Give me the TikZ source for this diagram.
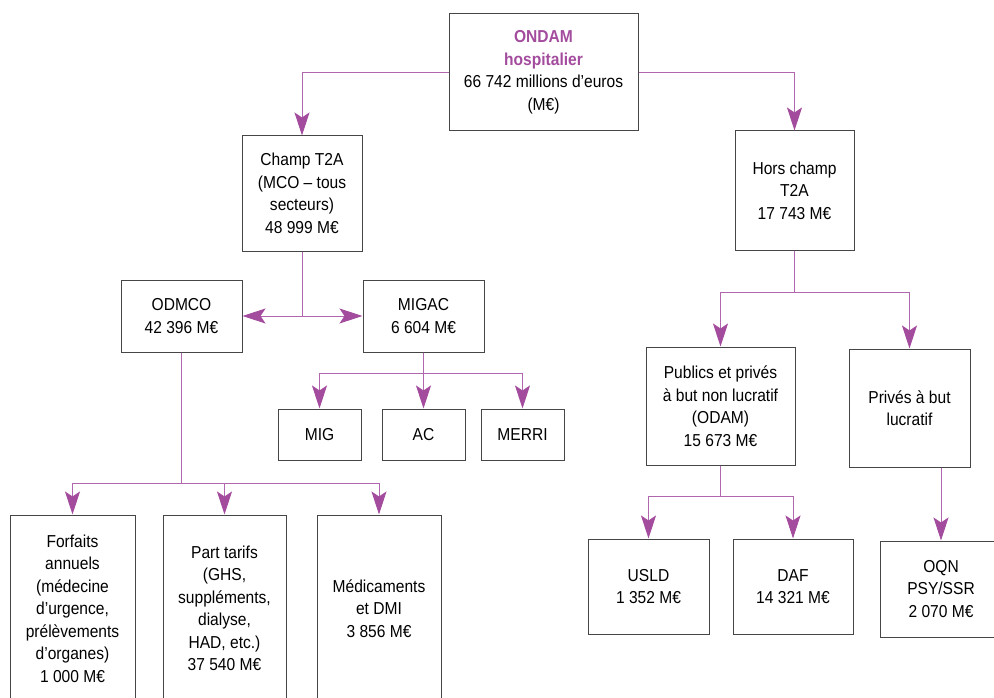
\documentclass[tikz,border=0pt]{standalone}
\usepackage{fontspec}
\setmainfont{Liberation Sans}[FakeStretch=0.9]
\usepackage{xcolor}
\usepackage{tikz}
\usetikzlibrary{arrows.meta}
\definecolor{ondampurple}{RGB}{163,76,158}
\definecolor{boxgray}{RGB}{70,70,70}

\begin{document}
\begin{tikzpicture}[x=1pt, y=-1pt,
  every node/.style={draw=boxgray, line width=1pt, align=center, inner sep=0pt,
    font=\fontsize{17.3}{22.5}\selectfont},
  >={Stealth[length=23pt, width=15pt, inset=5pt, color=ondampurple]},
  link/.style={draw=ondampurple!85, line width=0.9pt}]
\useasboundingbox (0,0) rectangle (994,698);
\node[minimum width=189pt, minimum height=117pt] (ondam) at (543.5,72.5)
  {\textcolor{ondampurple}{\bfseries ONDAM}\\ \textcolor{ondampurple}{\bfseries hospitalier}\\ 66 742 millions d’euros\\ (M€)};
\node[minimum width=120pt, minimum height=115pt] (t2a) at (302,193.5)
  {Champ T2A\\ (MCO – tous\\ secteurs)\\ 48 999 M€};
\node[minimum width=119pt, minimum height=119pt] (hors) at (794.5,190.5)
  {Hors champ\\ T2A\\ 17 743 M€};
\node[minimum width=121pt, minimum height=72pt] (odmco) at (181.5,316) {ODMCO\\ 42 396 M€};
\node[minimum width=121pt, minimum height=72pt] (migac) at (423.5,316) {MIGAC\\ 6 604 M€};
\node[minimum width=83pt, minimum height=51pt] (mig) at (319.5,434.5) {MIG};
\node[minimum width=83pt, minimum height=51pt] (ac) at (423.5,434.5) {AC};
\node[minimum width=83pt, minimum height=51pt] (merri) at (522.5,434.5) {MERRI};
\node[minimum width=125pt, minimum height=187pt] (forfaits) at (72.5,608.5)
  {Forfaits\\ annuels\\ (médecine\\ d’urgence,\\ prélèvements\\ d’organes)\\ 1 000 M€};
\node[minimum width=123pt, minimum height=187pt] (tarifs) at (224.5,608.5)
  {Part tarifs\\ (GHS,\\ suppléments,\\ dialyse,\\ HAD, etc.)\\ 37 540 M€};
\node[minimum width=124pt, minimum height=187pt] (medic) at (379,608.5)
  {Médicaments\\ et DMI\\ 3 856 M€};
\node[minimum width=149pt, minimum height=118pt] (publics) at (720.5,406)
  {Publics et privés\\ à but non lucratif\\ (ODAM)\\ 15 673 M€};
\node[minimum width=121pt, minimum height=118pt] (prives) at (909.5,408)
  {Privés à but\\ lucratif};
\node[minimum width=121pt, minimum height=95pt] (usld) at (648.5,586.5) {USLD\\ 1 352 M€};
\node[minimum width=120pt, minimum height=95pt] (daf) at (793,586.5) {DAF\\ 14 321 M€};
\node[minimum width=122pt, minimum height=96pt] (oqn) at (941,589) {OQN\\ PSY/SSR\\ 2 070 M€};
% top level
\draw[link, ->] (ondam.west) -| (t2a.north);
\draw[link, ->] (ondam.east) -| (hors.north);
% champ T2A
\draw[link] (t2a.south) -- (t2a.south |- odmco.center);
\draw[link, <->] (odmco) -- (migac);
\draw[link, ->] (migac.south) -- ++(0,21) -| (mig.north);
\draw[link, ->] (migac) -- (ac);
\draw[link, ->] (migac.south) -- ++(0,21) -| (merri.north);
\draw[link, ->] (odmco.south) -- ++(0,131) -| (forfaits.north);
\draw[link, ->] (odmco.south) -- ++(0,131) -| (tarifs.north);
\draw[link, ->] (odmco.south) -- ++(0,131) -| (medic.north);
% hors champ
\draw[link, ->] (hors.south) -- ++(0,42) -| (publics.north);
\draw[link, ->] (hors.south) -- ++(0,42) -| (prives.north);
\draw[link, ->] (publics.south) -- ++(0,31) -| (usld.north);
\draw[link, ->] (publics.south) -- ++(0,31) -| (daf.north);
\draw[link, ->] (oqn.north |- prives.south) -- (oqn);
\end{tikzpicture}
\end{document}
